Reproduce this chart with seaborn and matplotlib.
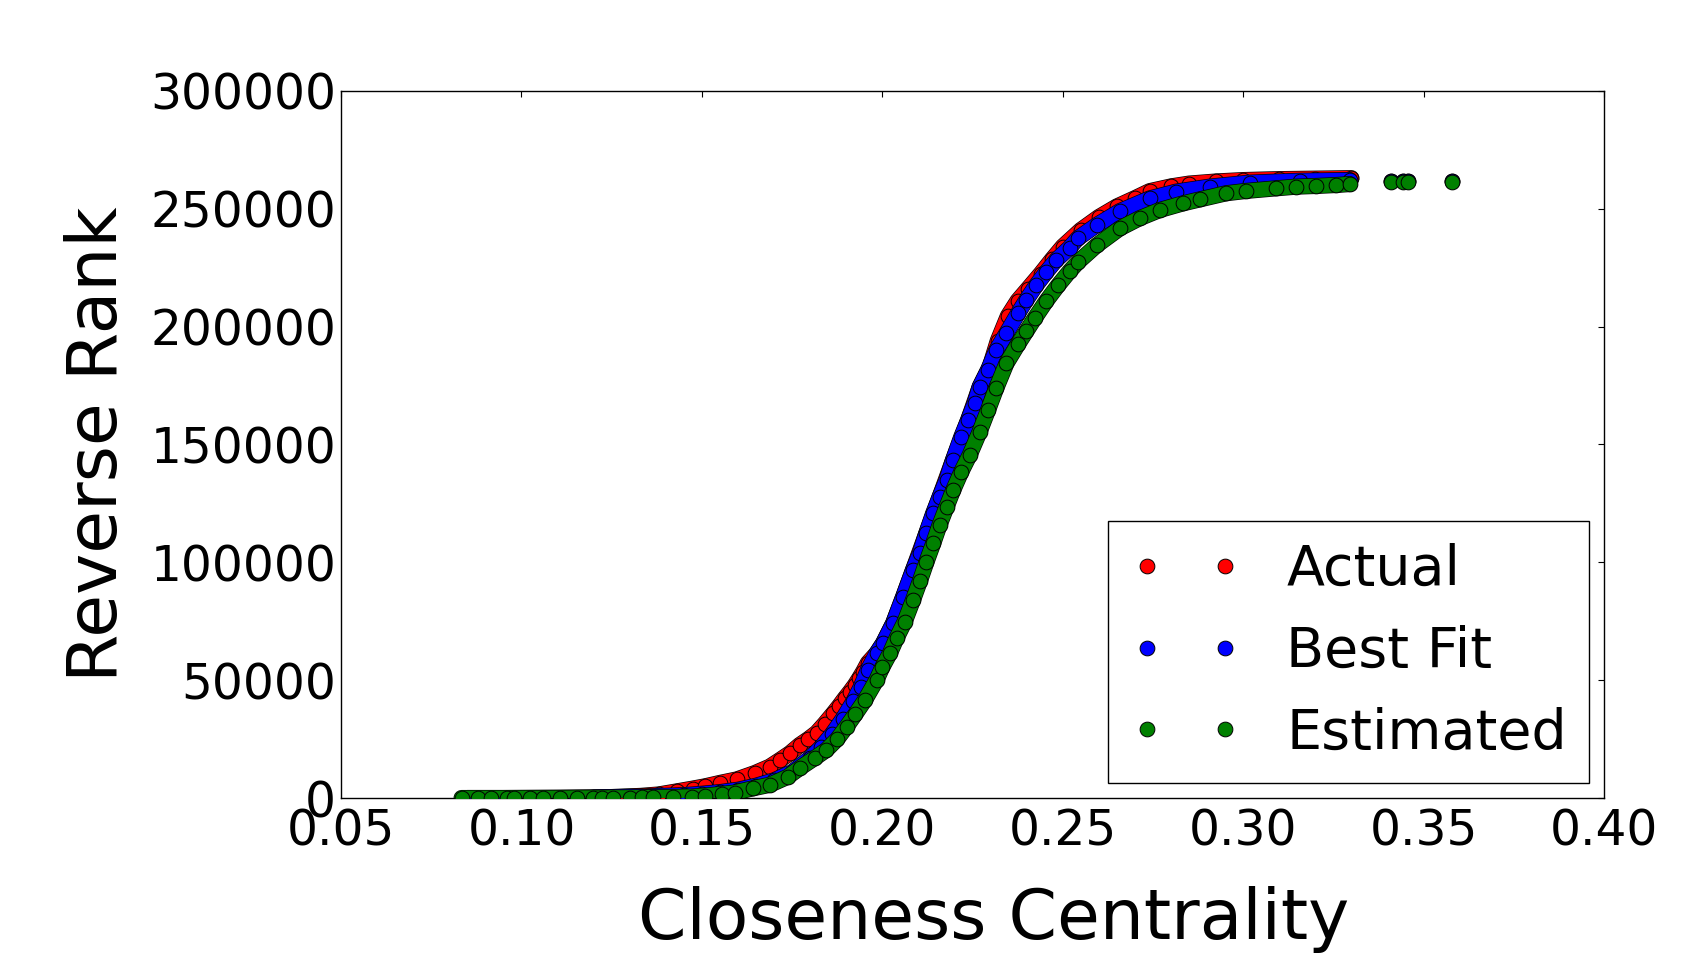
import pandas as pd
import seaborn as sns
import matplotlib.pyplot as plt
import matplotlib.patheffects as pe
from matplotlib.lines import Line2D

# ---------- 1. Values ----------
actual_x = [0.1200, 0.1270, 0.1330, 0.1380, 0.1430, 0.1475, 0.1510, 0.1550,
            0.1597, 0.1647, 0.1688, 0.1716, 0.1744, 0.1771, 0.1795, 0.1818,
            0.1840, 0.1864, 0.1880, 0.1896, 0.1910, 0.1924, 0.1936, 0.1947,
            0.1960, 0.1984, 0.2002, 0.2030, 0.2058, 0.2085, 0.2122, 0.2159,
            0.2196, 0.2238, 0.2270, 0.2298, 0.2320, 0.2348, 0.2375, 0.2403,
            0.2439, 0.2470, 0.2500, 0.2550, 0.2600, 0.2650, 0.2700, 0.2741,
            0.2800, 0.2850, 0.2925, 0.3000, 0.3100, 0.3200, 0.3300]
actual_y = [200, 500, 900, 1500, 2800, 4000, 5000, 6400,
            7900, 10600, 13300, 16100, 19000, 22500, 25000, 27700,
            31500, 35900, 39000, 42300, 45000, 47900, 50800, 53600,
            57300, 61400, 65600, 74100, 85400, 96700, 112300, 127800,
            143400, 160400, 174500, 183000, 194000, 204500, 211000, 216000,
            222500, 228500, 234000, 241000, 246500, 251000, 254500, 257500,
            259500, 260700, 261600, 262200, 262600, 262800, 263000]

fit_x = [0.0850, 0.0950, 0.1050, 0.1150, 0.1250, 0.1350, 0.1450, 0.1500,
         0.1550, 0.1600, 0.1650, 0.1700, 0.1750, 0.1800, 0.1830, 0.1860,
         0.1890, 0.1920, 0.1940, 0.1960, 0.1984, 0.2002, 0.2030, 0.2058,
         0.2085, 0.2104, 0.2122, 0.2141, 0.2159, 0.2178, 0.2196, 0.2219,
         0.2238, 0.2256, 0.2270, 0.2293, 0.2316, 0.2344, 0.2376, 0.2399,
         0.2427, 0.2455, 0.2482, 0.2519, 0.2542, 0.2594, 0.2658, 0.2741,
         0.2815, 0.2907, 0.3018, 0.3157, 0.3295]
fit_y = [0, 0, 100, 200, 400, 700, 1200, 1800,
         2500, 3500, 5200, 7500, 11000, 17000, 21500, 27000,
         33500, 41000, 47000, 54300, 61400, 65600, 74100, 85400,
         96700, 103800, 112300, 120800, 127800, 134900, 143400, 153300,
         160400, 167500, 174500, 181600, 190100, 197200, 205600, 211300,
         217700, 223300, 228300, 233500, 237500, 243100, 249000, 254400,
         257300, 259400, 261100, 261900, 262200]

est_x = [0.0834, 0.0880, 0.0915, 0.0961, 0.0979, 0.1024, 0.1060, 0.1107,
         0.1154, 0.1199, 0.1223, 0.1254, 0.1301, 0.1334, 0.1364, 0.1420,
         0.1472, 0.1508, 0.1555, 0.1591, 0.1641, 0.1688, 0.1738, 0.1771,
         0.1813, 0.1845, 0.1875, 0.1901, 0.1925, 0.1952, 0.1984, 0.2000,
         0.2021, 0.2040, 0.2062, 0.2085, 0.2104, 0.2122, 0.2141, 0.2159,
         0.2178, 0.2196, 0.2219, 0.2242, 0.2270, 0.2293, 0.2316, 0.2344,
         0.2376, 0.2399, 0.2422, 0.2455, 0.2488, 0.2519, 0.2543, 0.2594,
         0.2658, 0.2713, 0.2769, 0.2833, 0.2880, 0.2953, 0.3009, 0.3092,
         0.3147, 0.3203, 0.3258, 0.3295]
est_y = [0, 0, 0, 0, 0, 0, 0, 0,
         100, 100, 100, 200, 200, 300, 300, 400,
         600, 1000, 1700, 2300, 4100, 5600, 9000, 12700,
         17000, 20400, 25000, 30300, 35500, 41600, 50100, 55500,
         61400, 68000, 74800, 84000, 92000, 100000, 108000, 116000,
         123500, 130500, 138500, 145500, 155500, 164600, 174000, 184400,
         192500, 198000, 203500, 211000, 217700, 223500, 227500, 234500,
         241700, 246000, 249500, 252300, 254000, 256600, 257600, 258700,
         259400, 259700, 260100, 260500]

# isolated high-centrality nodes at the far right
outlier_x = [0.3411, 0.3442, 0.3458, 0.3578]
actual_out_y = [262000, 262000, 262000, 262000]
fit_out_y = [261800, 261800, 261800, 261800]
est_out_y = [261400, 261400, 261400, 261400]

x_ticks = [0.05, 0.10, 0.15, 0.20, 0.25, 0.30, 0.35, 0.40]
y_ticks = [0, 50000, 100000, 150000, 200000, 250000, 300000]

series = [
    ("Actual", actual_x, actual_y, actual_out_y, "#ff0000"),
    ("Best Fit", fit_x, fit_y, fit_out_y, "#0000ff"),
    ("Estimated", est_x, est_y, est_out_y, "#008000"),
]

# ---------- 2. Plot ----------
sns.set_style("white")
plt.rcParams["font.family"] = ["DejaVu Sans"]
plt.rcParams["text.color"] = "black"
plt.rcParams["axes.labelcolor"] = "black"

fig = plt.figure(figsize=(16.9, 9.72), dpi=100)
ax = fig.add_axes([0.2018, 0.1790, 0.7473, 0.7274])

MS = 10.6  # marker diameter in points
handles = []
for i, (name, xs, ys, oys, col) in enumerate(series):
    z = 3 + 2 * i
    # dense band of overlapping markers: fill gaps with a same-colour stroke
    ax.plot(xs, ys, color=col, lw=MS, solid_capstyle="round",
            solid_joinstyle="round", zorder=z,
            path_effects=[pe.Stroke(linewidth=MS + 1.0, foreground="black"),
                          pe.Normal()])
    df = pd.DataFrame({"x": xs + outlier_x, "y": ys + oys})
    sns.scatterplot(data=df, x="x", y="y", color=col, s=MS ** 2,
                    edgecolor="black", linewidth=0.7, zorder=z + 1,
                    legend=False, ax=ax)
    handles.append(Line2D([], [], ls="none", marker="o", ms=MS,
                          mfc=col, mec="black", mew=0.7, label=name))

ax.set_xlim(0.05, 0.40)
ax.set_ylim(0, 300000)
ax.set_xticks(x_ticks)
ax.set_xticklabels([f"{t:.2f}" for t in x_ticks])
ax.set_yticks(y_ticks)
ax.set_yticklabels([str(t) for t in y_ticks])

ax.tick_params(which="major", direction="in", length=4, width=0.8,
               top=True, right=True, labelsize=35, colors="black")
ax.tick_params(axis="x", pad=7)
ax.tick_params(axis="y", pad=3.5)
for sp in ax.spines.values():
    sp.set_linewidth(1.0)
    sp.set_color("black")

ax.set_xlabel("Closeness Centrality", fontsize=50)
ax.set_ylabel("Reverse Rank", fontsize=50)
ax.xaxis.set_label_coords(0.517, -0.1245)
ax.yaxis.set_label_coords(-0.166, 0.5)

leg = ax.legend(handles=handles, loc="lower right", numpoints=2,
                fontsize=40, frameon=True, fancybox=False, framealpha=1,
                borderaxespad=0.27, borderpad=0.4, handlelength=2.0,
                handletextpad=0.8, labelspacing=0.5)
leg.get_frame().set_edgecolor("black")
leg.get_frame().set_linewidth(1.0)

fig.savefig("out.png", dpi=100)
